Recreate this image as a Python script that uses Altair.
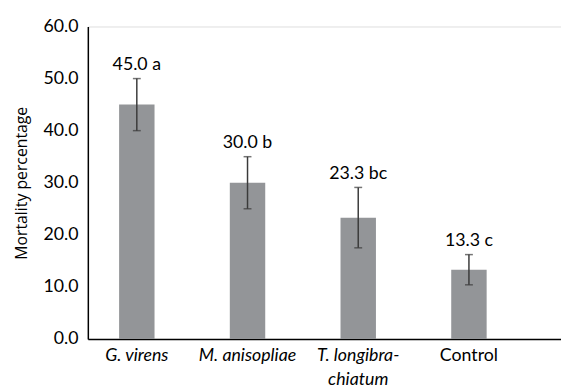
import altair as alt
import pandas as pd

categories = ["G. virens", "M. anisopliae", "T. longibra-|chiatum", "Control"]
means = [45.0, 30.0, 23.3, 13.3]
err_low = [40.0, 25.0, 17.5, 10.4]
err_high = [50.0, 35.0, 29.1, 16.2]
labels = ["45.0 a", "30.0 b", "23.3 bc", "13.3 c"]

df = pd.DataFrame({"cat": categories, "mean": means, "lo": err_low, "hi": err_high, "label": labels})

FONT = "Lato"

x = alt.X("cat:N", sort=categories, title=None,
          scale=alt.Scale(paddingInner=0.68, paddingOuter=0.477, align=0.296),
          axis=alt.Axis(labelAngle=0, ticks=False, domainColor="black", domainWidth=1.5,
                        labelFont=FONT, labelFontSize=18, labelColor="black", labelPadding=8,
                        labelLineHeight=24,
                        labelExpr="split(datum.label, '|')",
                        labelFontStyle={"condition": {"test": "datum.label == 'Control'", "value": "normal"}, "value": "italic"}))

y_scale = alt.Scale(domain=[0, 60], nice=False)

bars = alt.Chart(df).mark_bar(color="#939598").encode(
    x=x,
    y=alt.Y("mean:Q", scale=y_scale, title="Mortality percentage",
            axis=alt.Axis(values=[0, 10, 20, 30, 40, 50, 60], format=".1f", ticks=False, grid=False,
                          domainColor="black", domainWidth=1.5,
                          labelFont=FONT, labelFontSize=18, labelColor="black", labelPadding=10,
                          titleFont="Open Sans", titleFontSize=16, titleFontWeight="normal",
                          titleColor="black", titlePadding=14)),
)

rules = alt.Chart(df).mark_rule(color="#3a3a3a", strokeWidth=1.5).encode(
    x=alt.X("cat:N", sort=categories), y=alt.Y("lo:Q", scale=y_scale), y2="hi:Q")

caps_hi = alt.Chart(df).mark_tick(color="#3a3a3a", thickness=1.5, size=8, orient="horizontal").encode(
    x=alt.X("cat:N", sort=categories), y=alt.Y("hi:Q", scale=y_scale))
caps_lo = alt.Chart(df).mark_tick(color="#3a3a3a", thickness=1.5, size=8, orient="horizontal").encode(
    x=alt.X("cat:N", sort=categories), y=alt.Y("lo:Q", scale=y_scale))

text = alt.Chart(df).mark_text(font=FONT, fontSize=18, color="black", baseline="bottom", dy=-5).encode(
    x=alt.X("cat:N", sort=categories), y=alt.Y("hi:Q", scale=y_scale), text="label:N")

chart = alt.layer(bars, rules, caps_hi, caps_lo, text).properties(
    width=480, height=317,
    autosize=alt.AutoSizeParams(type="none"),
    padding={"left": 81, "top": 16, "right": 0, "bottom": 49},
).configure_view(stroke=None).configure(background="white")

chart.save("out.html", embed_options={"renderer": "svg", "actions": False})
